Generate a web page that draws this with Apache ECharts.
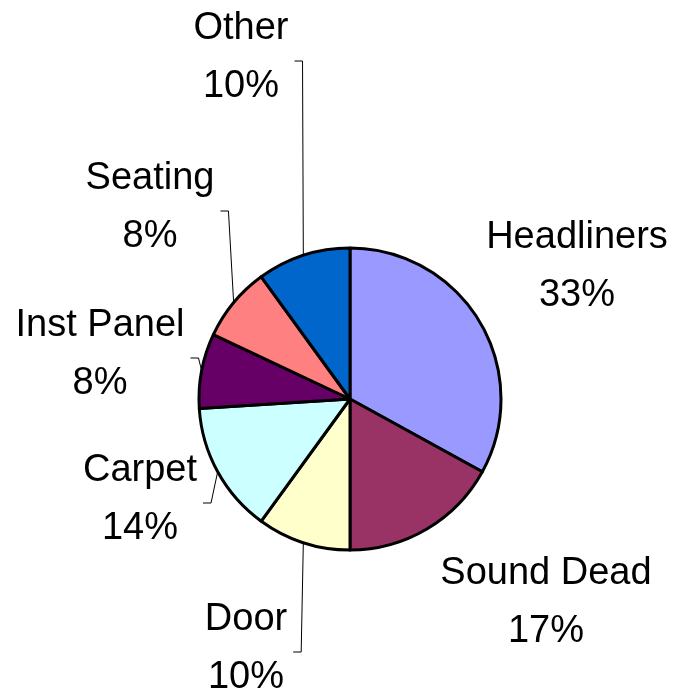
<!DOCTYPE html>
<html>
<head>
<meta charset="utf-8">
<script src="https://cdn.jsdelivr.net/npm/echarts@6/dist/echarts.min.js"></script>
<style>
html,body{margin:0;padding:0;background:#fff;}
#chart{width:673px;height:695px;}
</style>
</head>
<body>
<div id="chart"></div>
<script>
// Data
var categories = ['Headliners', 'Sound Dead', 'Door', 'Carpet', 'Inst Panel', 'Seating', 'Other'];
var values = [33, 17, 10, 14, 8, 8, 10];
var colors = ['#9999FF', '#993366', '#FFFFCC', '#CCFFFF', '#660066', '#FF8080', '#0066CC'];

// Label block centres (layout only)
var labelPos = [[577, 267], [546, 603], [246, 649], [140, 500], [100, 355], [150, 208], [241, 58]];
var showLine = [false, false, true, true, true, true, true];

var chart = echarts.init(document.getElementById('chart'), null, {renderer: 'canvas'});
var seriesData = categories.map(function (c, i) {
  return {
    name: c,
    value: values[i],
    itemStyle: {color: colors[i]},
    labelLine: {show: showLine[i]}
  };
});
chart.setOption({
  backgroundColor: '#ffffff',
  animation: false,
  series: [{
    type: 'pie',
    center: [350, 399],
    radius: 151,
    startAngle: 90,
    clockwise: true,
    data: seriesData,
    itemStyle: {borderColor: '#000', borderWidth: 3},
    label: {
      show: true,
      position: 'outside',
      formatter: '{b}\n{d}%',
      fontFamily: 'Liberation Sans, Arial, sans-serif',
      fontSize: 38,
      lineHeight: 58,
      color: '#000',
      align: 'center',
      overflow: 'none'
    },
    labelLine: {
      show: true,
      length: 10,
      length2: 10,
      lineStyle: {color: '#000', width: 1}
    },
    labelLayout: function (p) {
      var pos = labelPos[p.dataIndex];
      var out = {x: pos[0], y: pos[1], align: 'center', verticalAlign: 'middle'};
      if (showLine[p.dataIndex] && p.labelLinePoints) {
        var start = p.labelLinePoints[0];
        var right = pos[0] + p.labelRect.width / 2;
        var yMid = pos[1] + 3;
        out.labelLinePoints = [start, [right + 14, yMid], [right + 6, yMid]];
      }
      return out;
    }
  }]
});
</script>
</body>
</html>
